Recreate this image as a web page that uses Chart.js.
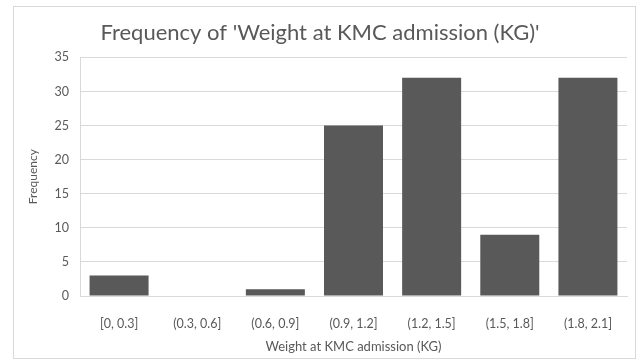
<!DOCTYPE html>
<html>
<head>
<meta charset="utf-8">
<script src="https://cdn.jsdelivr.net/npm/chart.js@4/dist/chart.umd.min.js"></script>
<style>
  html, body { margin: 0; padding: 0; background: #fff; }
  #wrap { position: relative; width: 639px; height: 362px; }
  #frame { position: absolute; left: 13px; top: 6px; width: 621px; height: 351px; border: 1px solid #d9d9d9; }
  canvas { position: absolute; left: 0; top: 0; }
</style>
</head>
<body>
<div id="wrap">
  <div id="frame"></div>
  <canvas id="histChart" width="639" height="362"></canvas>
</div>
<script>
// Histogram bins and counts
const binLabels = ["[0, 0.3]", "(0.3, 0.6]", "(0.6, 0.9]", "(0.9, 1.2]", "(1.2, 1.5]", "(1.5, 1.8]", "(1.8, 2.1]"];
const counts = [3, 0, 1, 25, 32, 9, 32];
const yTicks = [0, 5, 10, 15, 20, 25, 30, 35];

const textColor = "#595959";
const fontFamily = "Lato, 'Open Sans', sans-serif";

const ctx = document.getElementById("histChart").getContext("2d");
const histChart = new Chart(ctx, {
  type: "bar",
  data: {
    labels: binLabels,
    datasets: [
      {
        label: "Frequency",
        data: counts,
        backgroundColor: "#595959",
        borderWidth: 0,
        categoryPercentage: 1,
        barPercentage: 0.755,
      },
    ],
  },
  options: {
    responsive: false,
    animation: false,
    layout: {
      padding: { left: 13, right: 12, top: 20, bottom: 4 },
    },
    plugins: {
      legend: { display: false },
      tooltip: { enabled: false },
      title: {
        display: true,
        text: "Frequency of 'Weight at KMC admission (KG)'",
        color: textColor,
        font: { family: fontFamily, size: 22, weight: "normal" },
        padding: { top: 0, bottom: 11 },
      },
    },
    scales: {
      x: {
        grid: { display: false, drawTicks: false },
        border: { color: "#d9d9d9" },
        ticks: {
          color: textColor,
          font: { family: fontFamily, size: 12.5 },
          padding: 20,
          maxRotation: 0,
        },
        title: {
          display: true,
          text: "Weight at KMC admission (KG)",
          color: textColor,
          font: { family: fontFamily, size: 13 },
          padding: { top: 0, bottom: 3 },
        },
        afterFit: (scale) => {
          scale.height = 62;
        },
      },
      y: {
        min: 0,
        max: 35,
        afterBuildTicks: (scale) => {
          scale.ticks = yTicks.map((v) => ({ value: v }));
        },
        grid: { color: "#d9d9d9", drawTicks: false },
        border: { display: true, color: "#d9d9d9" },
        ticks: {
          color: textColor,
          font: { family: fontFamily, size: 12.5 },
          padding: 11,
        },
        title: {
          display: true,
          text: "Frequency",
          color: textColor,
          font: { family: fontFamily, size: 12 },
          padding: { top: 13, bottom: 0 },
        },
        afterFit: (scale) => {
          scale.width = 67;
        },
      },
    },
  },
});
</script>
</body>
</html>
